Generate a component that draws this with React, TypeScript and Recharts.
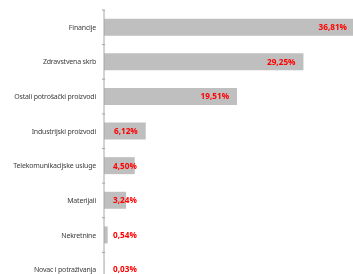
import React from 'react';
import { BarChart, Bar, XAxis, YAxis, LabelList } from 'recharts';

const categories = [
  'Financije',
  'Zdravstvena skrb',
  'Ostali potrošački proizvodi',
  'Industrijski proizvodi',
  'Telekomunikacijske usluge',
  'Materijali',
  'Nekretnine',
  'Novac i potraživanja',
];
const shares = [36.81, 29.25, 19.51, 6.12, 4.5, 3.24, 0.54, 0.03];

const data = categories.map((name, i) => ({ name, value: shares[i] }));

const WIDTH = 353;
const HEIGHT = 285;
const MARGIN = { top: 2, right: 6, bottom: 6, left: 0 };
const PLOT_H = HEIGHT - MARGIN.top - MARGIN.bottom;
const BAND = PLOT_H / categories.length;

const fmt = (v: number) => v.toFixed(2).replace('.', ',') + '%';

const CategoryTick = (props: any) => {
  const { x, y, payload } = props;
  return (
    <g>
      <line x1={x + 6} x2={x + 9} y1={y - BAND / 2} y2={y - BAND / 2} stroke="#a6a6a6" />
      <text
        x={x}
        y={y}
        dy="0.355em"
        textAnchor="end"
        fontSize={7}
        fontFamily="'Noto Sans', sans-serif"
        letterSpacing={-0.2}
        fill="#404040"
      >
        {payload.value}
      </text>
    </g>
  );
};

const renderValueLabel = (props: any) => {
  const { x, y, width, height, value } = props;
  const text = fmt(Number(value));
  const tw = text.length * 4.9;
  const inside = Number(width) > tw + 17;
  const tx = inside ? Number(x) + Number(width) - 8 : Number(x) + 9;
  return (
    <text
      x={tx}
      y={Number(y) + Number(height) / 2}
      dy="0.355em"
      textAnchor={inside ? 'end' : 'start'}
      fontSize={8.2}
      fontWeight="bold"
      fontFamily="'Open Sans', sans-serif"
      fill="#ff0000"
    >
      {text}
    </text>
  );
};

export default function App() {
  return (
    <div
      style={{
        position: 'fixed',
        left: 8,
        top: 8,
        width: 345,
        height: 266,
        overflow: 'hidden',
      }}
    >
      <BarChart
        width={WIDTH}
        height={HEIGHT}
        data={data}
        layout="vertical"
        margin={MARGIN}
        barCategoryGap="25%"
      >
        <XAxis
          type="number"
          domain={[0, 'dataMax']}
          height={0}
          tick={false}
          axisLine={false}
          tickLine={false}
        />
        <YAxis
          type="category"
          dataKey="name"
          width={96}
          axisLine={{ stroke: '#a6a6a6' }}
          tickLine={false}
          tick={<CategoryTick />}
          interval={0}
        />
        <Bar dataKey="value" fill="#bfbfbf" isAnimationActive={false}>
          <LabelList dataKey="value" content={renderValueLabel} />
        </Bar>
      </BarChart>
    </div>
  );
}
